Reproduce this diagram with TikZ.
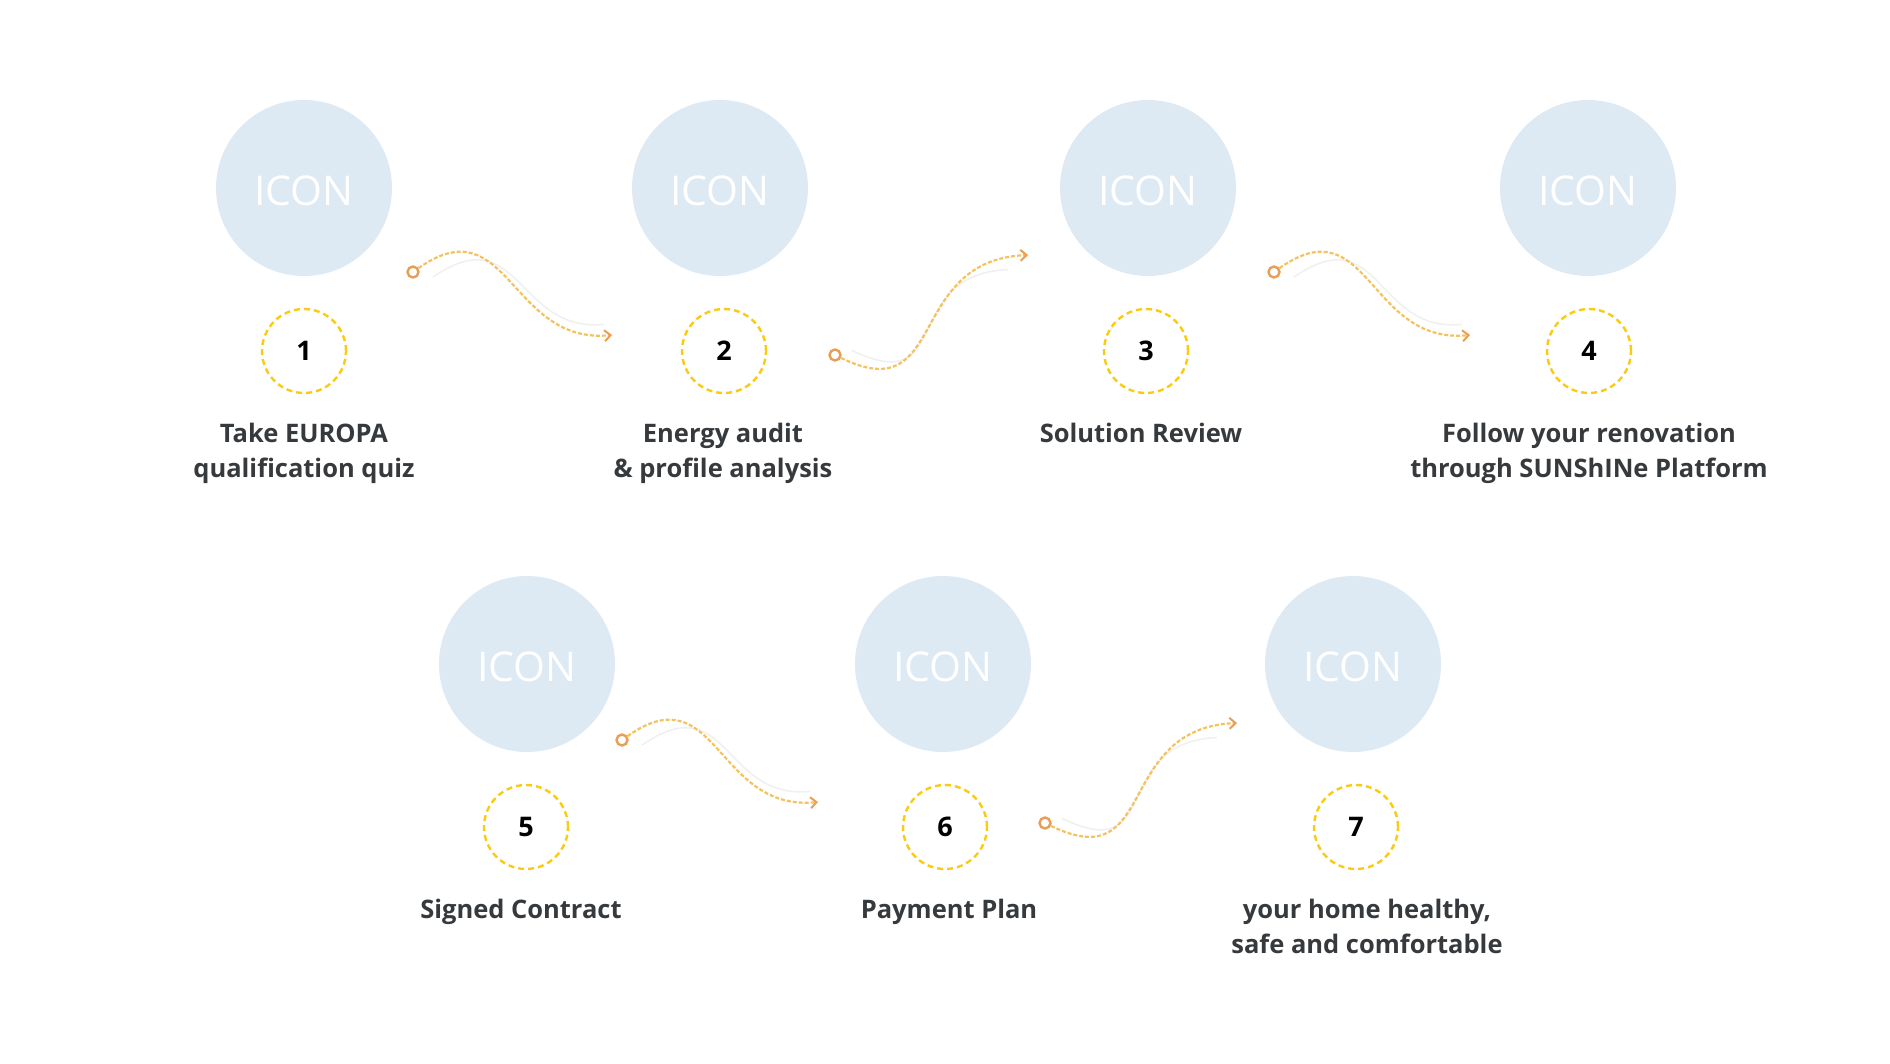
\documentclass[tikz,border=0pt]{standalone}
\usepackage{fontspec}
\setmainfont{Open Sans}
\usetikzlibrary{positioning,arrows.meta}
\definecolor{iconblue}{HTML}{DDE9F3}
\definecolor{ringgold}{HTML}{FACB12}
\definecolor{flowgold}{HTML}{F4C25E}
\definecolor{floworange}{HTML}{EA9E55}
\definecolor{labelgrey}{HTML}{373A3D}
\tikzstyle{icon} = [circle, fill=iconblue, minimum size=176pt, inner sep=0pt, text=white, text height=35pt, text depth=0pt, font=\fontsize{41}{41}\selectfont]
\tikzstyle{ring} = [circle, draw=ringgold, line width=2.4pt, dash pattern=on 6pt off 4pt, minimum size=84pt, inner sep=0pt, font=\fontsize{27}{27}\selectfont\bfseries]
\tikzstyle{label} = [align=center, anchor=base, text=labelgrey, font=\fontsize{25.5}{35}\selectfont\bfseries]
\tikzstyle{dot} = [circle, draw=floworange, line width=2.4pt, minimum size=11pt, inner sep=0pt]
\tikzstyle{line} = [draw=flowgold, line width=2.2pt, dash pattern=on 4pt off 2pt, -{Straight Barb[length=6pt,width=11pt,line width=2pt,color=floworange]}]
\tikzstyle{ghost} = [draw=black!6, line width=1.6pt, shorten <=12pt, shorten >=14pt]

\begin{document}
\begin{tikzpicture}[x=1pt,y=-1pt]
	\useasboundingbox (0,0) rectangle (1890,1063);
	% first row
	\node [icon] (icon1) at (304,188) {ICON};
	\node [icon] (icon2) at (720,188) {ICON};
	\node [icon] (icon3) at (1148,188) {ICON};
	\node [icon] (icon4) at (1588,188) {ICON};
	\node [ring] (step1) at (304,351) {1};
	\node [ring] (step2) at (724,351) {2};
	\node [ring] (step3) at (1146,351) {3};
	\node [ring] (step4) at (1589,351) {4};
	% base anchor sits on the last line
	\node [label] (text1) at (304,477) {Take EUROPA\\qualification quiz};
	\node [label] (text2) at (723,477) {Energy audit\\\& profile analysis};
	\node [label] (text3) at (1141,442) {Solution Review};
	\node [label] (text4) at (1589,477) {Follow your renovation\\through SUNShINe Platform};
	% second row
	\node [icon] (icon5) at (527,664) {ICON};
	\node [icon] (icon6) at (943,664) {ICON};
	\node [icon] (icon7) at (1353,664) {ICON};
	\node [ring] (step5) at (526,827) {5};
	\node [ring] (step6) at (945,827) {6};
	\node [ring] (step7) at (1356,827) {7};
	\node [label] (text5) at (521,918) {Signed Contract};
	\node [label] (text6) at (949,918) {Payment Plan};
	\node [label] (text7) at (1367,953) {your home healthy,\\safe and comfortable};
	
	% connectors
	\node [dot] (from1) at (413,272) {};
	\coordinate (to1) at (612,335);
	\node [dot] (from2) at (835,355) {};
	\coordinate (to2) at (1028,255);
	\node [dot] (from3) at (1274,272) {};
	\coordinate (to3) at (1470,335);
	\node [dot] (from5) at (622,740) {};
	\coordinate (to5) at (818,802);
	\node [dot] (from6) at (1045,823) {};
	\coordinate (to6) at (1237,723);
	
	\foreach \a in {1,3,5} {
		\path[ghost] ([shift={(10,12)}]from\a.center) .. controls +(97,-67) and +(-102,10) .. ([shift={(6,-12)}]to\a);
		\path[line] (from\a) .. controls +(95,-67) and +(-102,10) .. (to\a);
	}
	\foreach \a in {2,6} {
		\path[ghost] ([shift={(6,-10)}]from\a.center) .. controls +(113,55) and +(-123,5) .. ([shift={(-6,14)}]to\a);
		\path[line] (from\a) .. controls +(113,55) and +(-123,5) .. (to\a);
	}
\end{tikzpicture}
\end{document}
